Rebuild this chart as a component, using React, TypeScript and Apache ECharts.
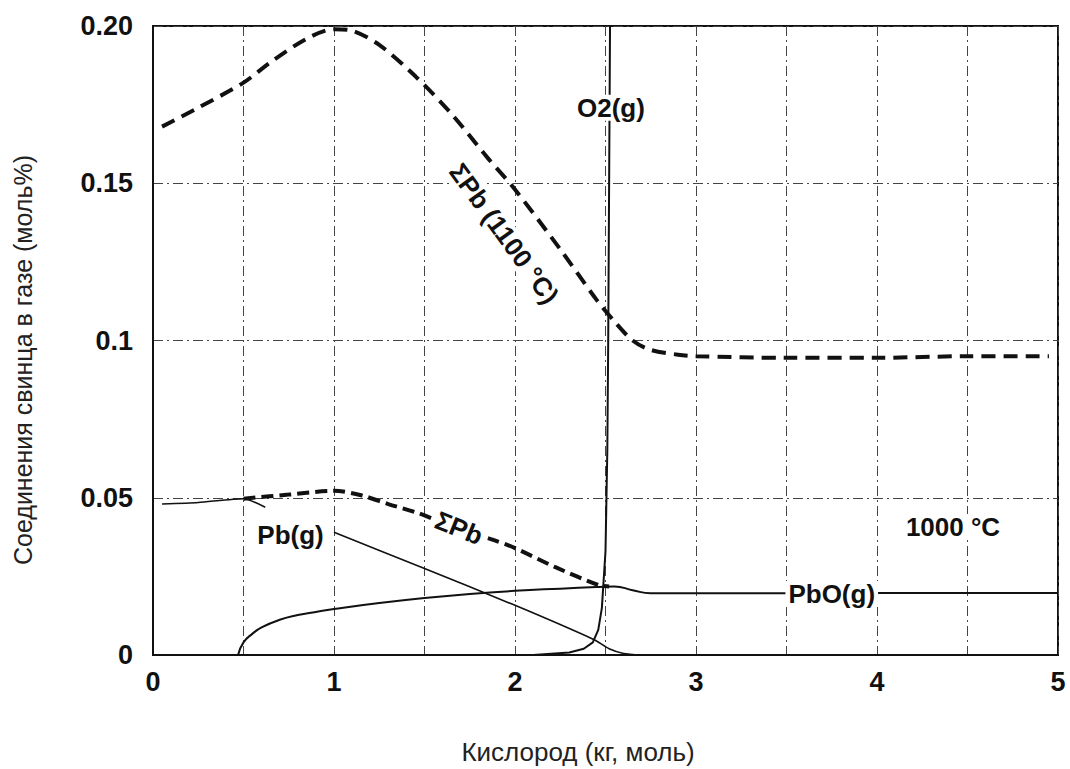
import React, { useEffect, useRef } from "react";
import * as echarts from "echarts";

// ---- data ----
const xTickLabels = ["0", "1", "2", "3", "4", "5"];
const yTickLabels = ["0", "0.05", "0.1", "0.15", "0.20"];

const sumPb1100X = [0.05, 0.25, 0.5, 0.65, 0.85, 1.0, 1.1, 1.25, 1.45, 1.65, 1.85, 2.0, 2.25, 2.45, 2.55, 2.65, 2.75, 2.9, 3.0, 3.5, 4.0, 4.5, 4.95];
const sumPb1100Y = [0.168, 0.174, 0.182, 0.1885, 0.196, 0.199, 0.1985, 0.194, 0.184, 0.172, 0.158, 0.148, 0.129, 0.113, 0.106, 0.1, 0.097, 0.0955, 0.095, 0.0945, 0.0945, 0.095, 0.095];

const sumPb1000X = [0.5, 0.75, 1.0, 1.15, 1.3, 1.47, 1.6, 1.75, 1.88, 2.0, 2.22, 2.46, 2.52];
const sumPb1000Y = [0.0497, 0.051, 0.0522, 0.0508, 0.048, 0.045, 0.042, 0.039, 0.0366, 0.034, 0.028, 0.0223, 0.0218];

const pbGX = [0.05, 0.25, 0.5, 0.62, 0.8, 1.0, 1.5, 2.0, 2.44, 2.52, 2.6, 2.7];
const pbGY = [0.048, 0.0485, 0.0497, 0.047, null, 0.039, 0.0275, 0.0158, 0.0048, 0.002, 0.0005, 0];

const pboX = [0.47, 0.5, 0.55, 0.6, 0.7, 0.8, 0.9, 1.0, 1.25, 1.5, 1.75, 2.0, 2.25, 2.45, 2.55, 2.65, 2.75, 3.0, 3.5, 4.0, 4.5, 5.0];
const pboY = [0, 0.004, 0.0068, 0.0088, 0.0112, 0.0127, 0.0137, 0.0146, 0.0165, 0.0181, 0.0194, 0.0204, 0.0211, 0.0216, 0.0218, 0.0206, 0.0196, 0.0196, 0.0196, 0.0197, 0.0197, 0.0197];

const o2X = [2.1, 2.3, 2.38, 2.43, 2.46, 2.48, 2.5, 2.51, 2.515, 2.52, 2.525];
const o2Y = [0, 0.0008, 0.002, 0.004, 0.008, 0.015, 0.033, 0.065, 0.1, 0.15, 0.2];

// annotation labels: [text, x, y, rotationDeg]
const annotations: [string, number, number, number][] = [
  ["O2(g)", 2.53, 0.174, 0],
  ["ΣPb (1100 °C)", 1.94, 0.134, -54],
  ["ΣPb", 1.69, 0.0404, -22],
  ["Pb(g)", 0.76, 0.0382, 0],
  ["PbO(g)", 3.75, 0.0194, 0],
  ["1000 °C", 4.42, 0.0407, 0],
];

const yTitle = "Соединения свинца в газе (моль%)";
const xTitle = "Кислород (кг, моль)";

const zip = (xs: number[], ys: (number | null)[]) => xs.map((x, i) => [x, ys[i]]);

export default function App() {
  const ref = useRef<HTMLDivElement>(null);
  useEffect(() => {
    document.body.style.margin = "0";
    const chart = echarts.init(ref.current!, null, { renderer: "svg" });
    const font = "Arial, 'Liberation Sans', sans-serif";
    const grid = { left: 153, right: 12, top: 26, bottom: 114 };
    const split = { show: true, lineStyle: { color: "#444", width: 1, type: [10, 4, 2, 4] as any } };
    chart.setOption({
      animation: false,
      backgroundColor: "#fff",
      grid: { ...grid, show: true, borderColor: "#111", borderWidth: 2, backgroundColor: "transparent" },
      xAxis: {
        type: "value",
        min: 0,
        max: 5,
        interval: 0.5,
        axisLine: { show: true, lineStyle: { color: "#111", width: 2 } },
        axisTick: { show: false },
        splitLine: split,
        axisLabel: {
          margin: 13,
          fontFamily: font,
          fontWeight: "bold",
          fontSize: 27,
          color: "#111",
          formatter: (v: number) => (Math.abs(v - Math.round(v)) < 1e-6 ? xTickLabels[Math.round(v)] : ""),
        },
      },
      yAxis: {
        type: "value",
        min: 0,
        max: 0.2,
        interval: 0.05,
        axisLine: { show: true, lineStyle: { color: "#111", width: 2 } },
        axisTick: { show: false },
        splitLine: split,
        axisLabel: {
          margin: 20,
          fontFamily: font,
          fontWeight: "bold",
          fontSize: 27,
          color: "#111",
          formatter: (v: number) => yTickLabels[Math.round(v / 0.05)],
        },
      },
      series: [
        {
          type: "line",
          name: "ΣPb 1100",
          data: zip(sumPb1100X, sumPb1100Y),
          smooth: 0.3,
          showSymbol: false,
          lineStyle: { color: "#111", width: 4, type: [14, 8] as any },
          z: 5,
        },
        {
          type: "line",
          name: "ΣPb 1000",
          data: zip(sumPb1000X, sumPb1000Y),
          smooth: 0.3,
          showSymbol: false,
          lineStyle: { color: "#111", width: 4, type: [12, 6] as any },
          z: 5,
        },
        {
          type: "line",
          name: "Pb(g)",
          data: zip(pbGX, pbGY),
          smooth: 0.2,
          connectNulls: false,
          showSymbol: false,
          lineStyle: { color: "#111", width: 1.6 },
          z: 4,
        },
        {
          type: "line",
          name: "PbO(g)",
          data: zip(pboX, pboY),
          smooth: 0.5,
          showSymbol: false,
          lineStyle: { color: "#111", width: 2 },
          z: 4,
        },
        {
          type: "line",
          name: "O2(g)",
          data: zip(o2X, o2Y),
          smooth: false,
          showSymbol: false,
          lineStyle: { color: "#111", width: 2 },
          z: 4,
        },
      ],
    });

    const texts: any[] = annotations.map(([t, x, y, rot]) => {
      const [px, py] = chart.convertToPixel({ gridIndex: 0 }, [x, y]) as number[];
      return {
        type: "text",
        x: px,
        y: py,
        rotation: (rot * Math.PI) / 180,
        z: 100,
        style: {
          text: t,
          fontFamily: font,
          fontWeight: "bold",
          fontSize: 26,
          fill: "#111",
          align: "center",
          verticalAlign: "middle",
          backgroundColor: "#fff",
          padding: [0, 3],
        },
      };
    });
    texts.push({
      type: "text",
      x: 23,
      y: 360,
      rotation: Math.PI / 2,
      style: {
        text: yTitle,
        fontFamily: font,
        fontSize: 25,
        fill: "#222",
        align: "center",
        verticalAlign: "middle",
      },
    });
    texts.push({
      type: "text",
      x: 578,
      y: 752,
      style: {
        text: xTitle,
        fontFamily: font,
        fontSize: 26,
        fill: "#222",
        align: "center",
        verticalAlign: "middle",
      },
    });
    chart.setOption({ graphic: texts });
    return () => chart.dispose();
  }, []);
  return <div ref={ref} style={{ width: 1070, height: 769 }} />;
}
